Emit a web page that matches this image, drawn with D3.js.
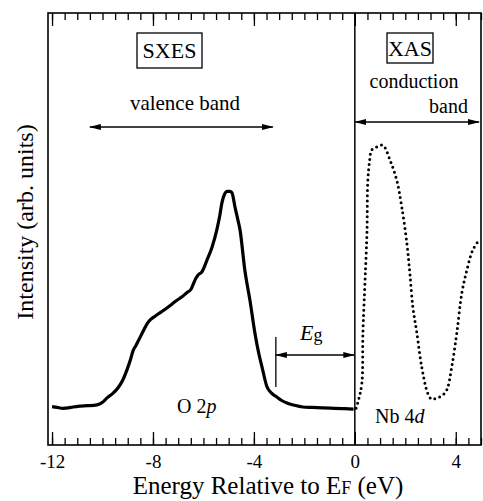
<!DOCTYPE html>
<html>
<head>
<meta charset="utf-8">
<script src="https://cdn.jsdelivr.net/npm/d3@7"></script>
<style>
  body { margin: 0; background: #fff; }
  svg { display: block; }
  text { font-family: "Liberation Serif", "Times New Roman", Times, "DejaVu Serif", serif; fill: #000; }
</style>
</head>
<body>
<script>
var serif = "Liberation Serif, Times New Roman, DejaVu Serif, serif";

// SXES valence band spectrum (solid line)
var sxesE = [-12.0, -11.8, -11.56, -11.35, -11.17, -10.9, -10.6, -10.22, -10.0, -9.82, -9.6, -9.39, -9.2,
  -9.03, -8.9, -8.79, -8.68, -8.59, -8.4, -8.24, -8.1, -7.92, -7.7, -7.45, -7.25, -7.05, -6.85, -6.65,
  -6.5, -6.42, -6.3, -6.22, -6.06, -5.86, -5.66, -5.47, -5.35, -5.27, -5.15, -5.07, -4.95, -4.87, -4.75,
  -4.65, -4.55, -4.36, -4.16, -3.96, -3.8, -3.68, -3.49, -3.3, -3.09, -2.9, -2.69, -2.4, -2.06, -1.7,
  -1.27, -0.8, -0.4, -0.05];
var sxesI = [8.9, 8.7, 8.5, 8.6, 8.8, 9.0, 9.1, 9.3, 9.9, 10.9, 11.9, 13.2, 15.0,
  17.4, 19.6, 21.8, 23.0, 24.0, 26.2, 28.0, 29.0, 29.8, 30.7, 31.7, 32.6, 33.5, 34.3, 35.3,
  36.0, 37.0, 38.6, 39.3, 40.1, 42.8, 45.8, 49.8, 53.2, 56.0, 58.2, 58.7, 58.7, 58.4, 55.1,
  52.5, 49.8, 40.5, 33.6, 25.9, 21.0, 18.1, 13.6, 12.0, 11.1, 10.3, 9.7, 9.2, 8.8, 8.7,
  8.6, 8.5, 8.4, 8.3];

// XAS conduction band spectrum (dotted line)
var xasE = [0.05, 0.15, 0.28, 0.32, 0.40, 0.48, 0.51, 0.58, 0.67, 0.87, 1.11, 1.39, 1.66, 1.86, 2.06,
  2.18, 2.30, 2.46, 2.65, 2.89, 3.05, 3.25, 3.45, 3.64, 3.84, 4.04, 4.24, 4.44, 4.67, 4.87];
var xasI = [8.5, 10.5, 14.4, 25.9, 37.5, 49.1, 60.6, 65.5, 68.3, 69.0, 69.4, 66.0, 61.3, 55.1, 46.8,
  39.8, 31.9, 25.9, 18.1, 12.0, 10.6, 10.9, 11.4, 12.7, 18.1, 25.9, 35.2, 40.5, 45.1, 47.0];

var majorTicks = [-12, -8, -4, 0, 4];
var minorTicks = d3.range(-12, 5.01, 0.5);

var width = 483, height = 501;

var x = d3.scaleLinear().domain([-12.16, 5]).range([48, 481]);
var y = d3.scaleLinear().domain([0, 100]).range([445, 13]);

var svg = d3.select("body").append("svg")
    .attr("width", width)
    .attr("height", height)
    .attr("font-family", serif);

var defs = svg.append("defs");
defs.append("marker")
    .attr("id", "arrow")
    .attr("viewBox", "0 0 12 8")
    .attr("refX", 11)
    .attr("refY", 4)
    .attr("markerWidth", 12)
    .attr("markerHeight", 8)
    .attr("markerUnits", "userSpaceOnUse")
    .attr("orient", "auto-start-reverse")
  .append("path")
    .attr("d", "M0,1 L12,4 L0,7 Z")
    .attr("fill", "#000");

// axes (ticks pointing inwards)
svg.append("g")
    .attr("transform", "translate(0," + y(0) + ")")
    .call(d3.axisBottom(x).tickValues(minorTicks).tickSize(-7).tickFormat(""))
    .call(g => g.select(".domain").remove());
svg.append("g")
    .attr("transform", "translate(0," + y(0) + ")")
    .call(d3.axisBottom(x).tickValues(majorTicks).tickSize(-13).tickPadding(10).tickFormat(d => String(d)))
    .call(g => g.select(".domain").remove())
    .call(g => g.attr("font-family", serif).attr("font-size", 19))
    .call(g => g.selectAll("text").attr("fill", "#000"));
svg.append("g")
    .attr("transform", "translate(0," + y(100) + ")")
    .call(d3.axisTop(x).tickValues(minorTicks).tickSize(-7).tickFormat(""))
    .call(g => g.select(".domain").remove());
svg.append("g")
    .attr("transform", "translate(0," + y(100) + ")")
    .call(d3.axisTop(x).tickValues(majorTicks).tickSize(-13).tickFormat(""))
    .call(g => g.select(".domain").remove());
svg.selectAll(".tick line").attr("stroke", "#000").attr("stroke-width", 1.3);

// frame
svg.append("rect")
    .attr("x", x.range()[0])
    .attr("y", y(100))
    .attr("width", x.range()[1] - x.range()[0])
    .attr("height", y(0) - y(100))
    .attr("fill", "none")
    .attr("stroke", "#000")
    .attr("stroke-width", 1.6);

// Fermi level line
svg.append("line")
    .attr("x1", x(0)).attr("x2", x(0))
    .attr("y1", y(100)).attr("y2", y(0))
    .attr("stroke", "#000")
    .attr("stroke-width", 1.5);

// spectra
var line = d3.line()
    .x(d => x(d[0]))
    .y(d => y(d[1]))
    .curve(d3.curveMonotoneX);

svg.append("path")
    .datum(d3.zip(sxesE, sxesI))
    .attr("d", line)
    .attr("fill", "none")
    .attr("stroke", "#000")
    .attr("stroke-width", 3.2)
    .attr("stroke-linejoin", "round");

svg.append("path")
    .datum(d3.zip(xasE, xasI))
    .attr("d", line.curve(d3.curveCatmullRom))
    .attr("fill", "none")
    .attr("stroke", "#000")
    .attr("stroke-width", 3)
    .attr("stroke-linecap", "round")
    .attr("stroke-dasharray", "0 5.2");

// labels
function boxLabel(txt, cx, cy, w, h) {
    svg.append("rect")
        .attr("x", cx - w / 2).attr("y", cy - h / 2)
        .attr("width", w).attr("height", h)
        .attr("fill", "none")
        .attr("stroke", "#000")
        .attr("stroke-width", 1.3);
    svg.append("text")
        .attr("x", cx).attr("y", cy + 7.5)
        .attr("text-anchor", "middle")
        .attr("font-family", serif)
        .attr("font-size", 22)
        .text(txt);
}
boxLabel("SXES", 169.5, 50.5, 65, 35);
boxLabel("XAS", 410, 48, 46, 30);

function label(txt, px, py, anchor) {
    return svg.append("text")
        .attr("x", px).attr("y", py)
        .attr("text-anchor", anchor)
        .attr("font-family", serif)
        .attr("font-size", 20)
        .text(txt);
}
label("valence band", 185, 110, "middle").attr("font-size", 21);
label("conduction", 414, 88, "middle");
label("band", 468, 113, "end");

function arrow(e1, e2, py) {
    svg.append("line")
        .attr("x1", x(e1)).attr("x2", x(e2))
        .attr("y1", py).attr("y2", py)
        .attr("stroke", "#000")
        .attr("stroke-width", 1.3)
        .attr("marker-start", "url(#arrow)")
        .attr("marker-end", "url(#arrow)");
}
arrow(-10.5, -3.25, 127);
arrow(0.02, 4.92, 122);

// band gap
svg.append("line")
    .attr("x1", x(-3.13)).attr("x2", x(-3.13))
    .attr("y1", 337).attr("y2", 387)
    .attr("stroke", "#000")
    .attr("stroke-width", 1.3);
arrow(-3.13, -0.02, 355);
var eg = label("", 300, 340, "start").attr("font-size", 22);
eg.append("tspan").attr("font-style", "italic").text("E");
eg.append("tspan").attr("font-size", 18).attr("dy", 1).text("g");

var o2p = label("", 177, 413, "start");
o2p.append("tspan").text("O 2");
o2p.append("tspan").attr("font-style", "italic").text("p");

var nb = label("", 375, 423, "start");
nb.append("tspan").text("Nb 4");
nb.append("tspan").attr("font-style", "italic").text("d");

// axis titles
var xt = label("", 268, 494, "middle").attr("font-size", 25);
xt.append("tspan").text("Energy Relative to E");
xt.append("tspan").attr("font-size", 18).text("F");
xt.append("tspan").text(" (eV)");

label("Intensity (arb. units)", 0, 0, "middle")
    .attr("transform", "translate(33,222) rotate(-90)")
    .attr("font-size", 24);
</script>
</body>
</html>
